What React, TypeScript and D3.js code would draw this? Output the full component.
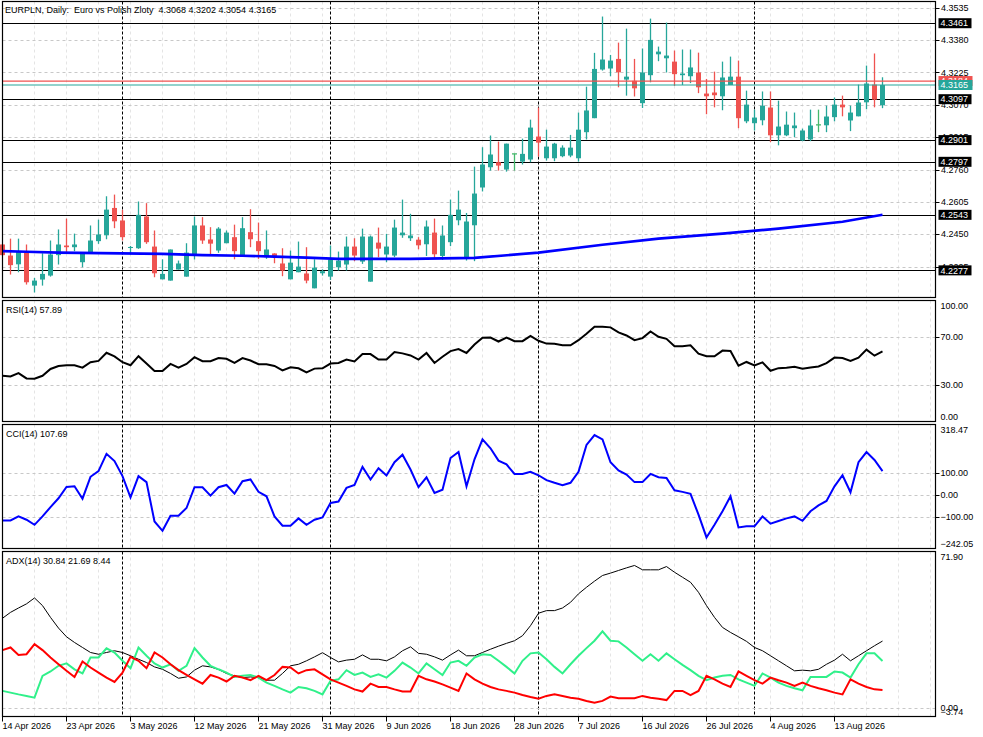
import * as d3 from 'd3'

// EURPLN daily, bars Sun-Fri starting 14 Apr 2026
const symbol = 'EURPLN'
const title = 'Euro vs Polish Zloty'
const firstDay = '2026-04-14'

const opens = [
  4.2401, 4.2348, 4.2306, 4.2362, 4.2204, 4.2233, 4.2252, 4.2350, 4.2396, 4.2388,
  4.2316, 4.2362, 4.2417, 4.2445, 4.2576, 4.2516, 4.2385, 4.2383, 4.2535, 4.2391,
  4.2234, 4.2228, 4.2281, 4.2247, 4.2348, 4.2492, 4.2425, 4.2372, 4.2407, 4.2436,
  4.2348, 4.2460, 4.2417, 4.2340, 4.2358, 4.2310, 4.2234, 4.2268, 4.2262, 4.2191,
  4.2263, 4.2247, 4.2292, 4.2305, 4.2391, 4.2319, 4.2223, 4.2410, 4.2353, 4.2348,
  4.2445, 4.2431, 4.2424, 4.2402, 4.2458, 4.2346, 4.2412, 4.2517, 4.2337, 4.2493,
  4.2674, 4.2771, 4.2795, 4.2760, 4.2835, 4.2798, 4.2808, 4.2918, 4.2814, 4.2814,
  4.2824, 4.2827, 4.2814, 4.2939, 4.3006, 4.3239, 4.3244, 4.3290, 4.3191, 4.3185,
  4.3078, 4.3212, 4.3312, 4.3293, 4.3277, 4.3212, 4.3207, 4.3225, 4.3124, 4.3129,
  4.3111, 4.3165, 4.3205, 4.2991, 4.2982, 4.2996, 4.3057, 4.2924, 4.2924, 4.2958,
  4.2899, 4.2904, 4.2974, 4.2972, 4.3011, 4.3071, 4.2995, 4.3015, 4.3082, 4.3167,
  4.3068,
]
const highs = [
  4.2404, 4.2429, 4.2429, 4.2401, 4.2241, 4.2359, 4.2420, 4.2473, 4.2525, 4.2453,
  4.2364, 4.2492, 4.2520, 4.2632, 4.2640, 4.2567, 4.2394, 4.2607, 4.2599, 4.2468,
  4.2330, 4.2377, 4.2324, 4.2407, 4.2535, 4.2532, 4.2484, 4.2484, 4.2468, 4.2496,
  4.2532, 4.2570, 4.2506, 4.2468, 4.2359, 4.2383, 4.2372, 4.2415, 4.2388, 4.2330,
  4.2282, 4.2396, 4.2367, 4.2439, 4.2431, 4.2477, 4.2444, 4.2482, 4.2452, 4.2520,
  4.2616, 4.2548, 4.2436, 4.2516, 4.2525, 4.2492, 4.2616, 4.2659, 4.2552, 4.2774,
  4.2867, 4.2923, 4.2894, 4.2884, 4.2835, 4.2908, 4.2999, 4.3057, 4.2951, 4.2888,
  4.2876, 4.2926, 4.3033, 4.3157, 4.3319, 4.3493, 4.3309, 4.3368, 4.3435, 4.3290,
  4.3340, 4.3483, 4.3349, 4.3464, 4.3330, 4.3335, 4.3335, 4.3320, 4.3194, 4.3229,
  4.3277, 4.3301, 4.3282, 4.3138, 4.3047, 4.3134, 4.3134, 4.3090, 4.3038, 4.3033,
  4.2956, 4.3047, 4.3047, 4.3066, 4.3105, 4.3114, 4.3066, 4.3167, 4.3258, 4.3316,
  4.3202,
]
const lows = [
  4.2347, 4.2257, 4.2268, 4.2209, 4.2171, 4.2204, 4.2247, 4.2305, 4.2364, 4.2369,
  4.2292, 4.2359, 4.2404, 4.2426, 4.2479, 4.2420, 4.2353, 4.2380, 4.2404, 4.2244,
  4.2234, 4.2228, 4.2281, 4.2247, 4.2329, 4.2404, 4.2353, 4.2361, 4.2407, 4.2330,
  4.2348, 4.2388, 4.2332, 4.2332, 4.2311, 4.2249, 4.2234, 4.2268, 4.2215, 4.2191,
  4.2252, 4.2231, 4.2276, 4.2276, 4.2321, 4.2308, 4.2223, 4.2340, 4.2316, 4.2340,
  4.2433, 4.2418, 4.2378, 4.2346, 4.2337, 4.2327, 4.2393, 4.2493, 4.2324, 4.2321,
  4.2655, 4.2755, 4.2755, 4.2750, 4.2755, 4.2784, 4.2795, 4.2822, 4.2803, 4.2800,
  4.2819, 4.2819, 4.2798, 4.2904, 4.3006, 4.3234, 4.3207, 4.3154, 4.3114, 4.3110,
  4.3055, 4.3178, 4.3279, 4.3225, 4.3161, 4.3165, 4.3174, 4.3126, 4.3025, 4.3058,
  4.3044, 4.3165, 4.2958, 4.2982, 4.2947, 4.2972, 4.2891, 4.2876, 4.2920, 4.2915,
  4.2896, 4.2896, 4.2939, 4.2939, 4.2991, 4.3015, 4.2944, 4.3015, 4.3049, 4.3058,
  4.3054,
]
const closes = [
  4.2350, 4.2302, 4.2367, 4.2220, 4.2228, 4.2260, 4.2353, 4.2401, 4.2388, 4.2401,
  4.2356, 4.2420, 4.2449, 4.2568, 4.2512, 4.2436, 4.2389, 4.2543, 4.2412, 4.2263,
  4.2260, 4.2377, 4.2310, 4.2362, 4.2492, 4.2420, 4.2405, 4.2477, 4.2458, 4.2369,
  4.2479, 4.2426, 4.2369, 4.2377, 4.2346, 4.2276, 4.2314, 4.2295, 4.2228, 4.2290,
  4.2273, 4.2329, 4.2324, 4.2391, 4.2348, 4.2439, 4.2439, 4.2381, 4.2391, 4.2482,
  4.2458, 4.2444, 4.2397, 4.2487, 4.2354, 4.2444, 4.2543, 4.2568, 4.2511, 4.2645,
  4.2784, 4.2832, 4.2779, 4.2884, 4.2835, 4.2835, 4.2961, 4.2889, 4.2870, 4.2884,
  4.2865, 4.2865, 4.2951, 4.3043, 4.3242, 4.3287, 4.3282, 4.3226, 4.3205, 4.3149,
  4.3225, 4.3381, 4.3325, 4.3306, 4.3217, 4.3220, 4.3249, 4.3154, 4.3111, 4.3116,
  4.3201, 4.3205, 4.3006, 4.3071, 4.3009, 4.3066, 4.2924, 4.2966, 4.2975, 4.2971,
  4.2947, 4.2971, 4.2974, 4.3014, 4.3071, 4.3058, 4.3033, 4.3081, 4.3172, 4.3095,
  4.3165,
]

// moving average read at a few bars: [bar, value]
const maPoints: [number, number][] = [
  [0, 4.2369], [3, 4.2366], [7, 4.2362], [20, 4.2356], [25, 4.2350], [30, 4.2347],
  [34, 4.2343], [38, 4.2338], [42, 4.2332], [51, 4.2332], [59, 4.2337], [67, 4.2362],
  [75, 4.2400], [82, 4.2429], [90, 4.2453], [97, 4.2477], [105, 4.2510], [110, 4.2543],
]

const levels = [4.3461, 4.3097, 4.2901, 4.2797, 4.2543, 4.2277]
const askPrice = 4.3184
const priceTicks = [4.3535, 4.3380, 4.3225, 4.3070, 4.2915, 4.2760, 4.2605, 4.2450, 4.2295]

const rsi = [
  37.8, 37.2, 40.0, 35.6, 35.3, 37.8, 43.4, 45.9, 46.5, 46.5,
  44.5, 49.0, 50.1, 56.8, 53.8, 49.0, 46.5, 54.0, 47.9, 41.7,
  41.7, 47.6, 44.5, 47.6, 53.2, 49.8, 49.8, 52.4, 51.8, 48.4,
  52.4, 50.4, 47.3, 47.3, 45.9, 42.3, 44.8, 44.0, 40.6, 43.7,
  44.0, 47.9, 48.4, 51.2, 49.6, 55.7, 55.7, 51.2, 51.2, 57.4,
  56.3, 54.6, 51.2, 56.6, 48.4, 53.5, 58.2, 59.9, 56.6, 63.6,
  69.2, 69.4, 66.1, 69.4, 66.4, 66.4, 70.8, 66.7, 64.4, 64.2,
  63.0, 63.0, 67.2, 72.5, 78.3, 78.3, 77.8, 73.6, 71.1, 67.2,
  68.9, 74.4, 70.0, 68.3, 62.2, 62.2, 63.0, 56.1, 53.9, 53.9,
  58.6, 58.3, 46.1, 49.2, 46.4, 48.9, 41.9, 44.1, 44.4, 45.3,
  43.6, 44.7, 45.5, 48.3, 52.8, 52.5, 50.0, 52.8, 59.4, 54.4,
  57.89,
]
const rsiLevels = [70, 30]

const cci = [
  -115, -115, -97, -112, -135, -97, -55, -15, 36, 39,
  -17, 82, 108, 186, 153, 85, -11, 85, 58, -120,
  -162, -94, -94, -59, 35, 35, -3, 35, 45, 6,
  62, 70, 14, -6, -97, -139, -139, -106, -135, -112,
  -102, -36, -30, 32, 45, 127, 70, 121, 88, 148,
  182, 115, 35, 80, 9, 24, 167, 194, 39, 161,
  251, 211, 155, 138, 95, 95, 105, 89, 67, 55,
  44, 55, 105, 226, 271, 251, 148, 111, 92, 58,
  58, 95, 80, 77, 21, 14, 5, -89, -192, -135,
  -74, -6, -147, -142, -142, -97, -130, -118, -106, -97,
  -117, -74, -47, -27, 39, 89, 12, 148, 194, 158,
  107.69,
]
const cciLevels = [100, 0, -100]

const adx = [
  41.3, 44.0, 46.0, 47.9, 50.6, 47.1, 41.7, 36.8, 32.8, 30.2,
  27.9, 25.6, 24.8, 25.6, 26.4, 25.6, 24.1, 22.5, 21.0, 19.0,
  17.9, 16.0, 13.8, 14.4, 17.5, 19.5, 19.0, 17.8, 16.0, 14.9,
  14.1, 14.4, 14.1, 12.9, 12.9, 16.0, 19.5, 20.2, 21.8, 23.6,
  25.5, 23.3, 21.3, 22.1, 22.5, 24.5, 22.5, 22.5, 21.8, 23.6,
  26.4, 28.2, 25.2, 24.8, 23.6, 22.1, 24.5, 26.7, 24.1, 24.1,
  25.6, 27.1, 28.5, 29.8, 31.0, 33.3, 37.9, 43.6, 44.8, 44.8,
  46.0, 48.6, 52.5, 55.5, 58.3, 60.9, 62.0, 63.2, 64.4, 65.5,
  63.5, 63.5, 63.5, 65.0, 62.4, 60.1, 57.8, 53.2, 47.1, 41.7,
  37.1, 34.8, 32.8, 30.7, 27.9, 26.4, 24.1, 21.8, 19.5, 17.2,
  17.5, 17.2, 17.9, 20.2, 22.1, 24.8, 21.8, 24.1, 26.4, 28.7,
  30.84,
]
const plusDi = [
  8.0, 7.2, 6.4, 5.7, 4.9, 14.9, 16.9, 19.5, 20.6, 17.9,
  16.0, 23.3, 23.3, 27.5, 25.6, 21.8, 18.4, 27.9, 24.1, 20.6,
  18.7, 20.2, 17.2, 19.5, 27.6, 23.3, 19.5, 17.9, 16.4, 14.4,
  14.9, 15.3, 14.1, 11.8, 10.3, 8.7, 7.2, 9.8, 9.2, 8.0,
  6.4, 12.6, 13.3, 17.5, 15.3, 16.4, 14.4, 15.6, 14.1, 17.2,
  21.0, 18.7, 16.0, 20.6, 17.9, 15.3, 21.0, 21.8, 19.5, 23.3,
  24.8, 24.5, 21.8, 19.0, 16.0, 21.8, 25.2, 25.6, 22.5, 19.0,
  16.0, 20.2, 24.1, 27.6, 31.0, 35.3, 31.0, 30.7, 27.9, 24.8,
  21.8, 24.8, 21.8, 25.2, 22.5, 19.9, 17.5, 14.9, 12.9, 14.1,
  14.9, 15.3, 13.3, 11.8, 10.3, 16.0, 14.1, 11.8, 10.3, 9.2,
  8.3, 14.4, 14.4, 14.4, 16.9, 16.4, 14.1, 20.2, 25.2, 25.2,
  21.69,
]
const minusDi = [
  26.7, 27.9, 24.5, 24.8, 29.4, 26.7, 23.3, 20.2, 17.2, 14.4,
  21.5, 18.7, 16.4, 14.1, 12.1, 16.4, 23.6, 21.8, 18.4, 25.6,
  23.3, 20.2, 17.5, 15.3, 13.3, 11.3, 15.3, 14.1, 12.3, 14.9,
  14.1, 12.9, 14.9, 12.9, 15.3, 19.0, 18.7, 16.0, 17.5, 17.9,
  15.6, 13.3, 11.8, 10.3, 8.7, 7.7, 11.3, 9.8, 9.8, 8.7,
  7.7, 7.7, 14.9, 13.3, 12.3, 11.0, 9.5, 8.0, 16.0, 13.3,
  11.3, 9.8, 8.7, 8.0, 7.2, 6.1, 5.2, 4.4, 5.7, 6.4,
  5.7, 4.9, 4.4, 3.4, 2.6, 3.4, 5.4, 4.6, 4.6, 4.6,
  5.7, 4.9, 4.4, 3.8, 8.0, 8.0, 6.1, 8.0, 14.9, 13.3,
  11.3, 9.8, 16.9, 14.9, 12.9, 11.3, 14.1, 12.9, 11.8, 10.3,
  11.8, 10.3, 9.2, 8.3, 7.2, 6.4, 13.3, 11.3, 9.8, 8.7,
  8.44,
]

const tickLabels = [
  '14 Apr 2026', '23 Apr 2026', '3 May 2026', '12 May 2026', '21 May 2026',
  '31 May 2026', '9 Jun 2026', '18 Jun 2026', '28 Jun 2026', '7 Jul 2026',
  '16 Jul 2026', '26 Jul 2026', '4 Aug 2026', '13 Aug 2026',
]
const barsPerTick = 8

// ---- layout
const W = 983, H = 737
const L = 2.5, R = 935.5
const panes = {
  main: { top: 1.5, bottom: 297.5 },
  rsi: { top: 300.5, bottom: 421.5 },
  cci: { top: 424.5, bottom: 548.5 },
  adx: { top: 551.5, bottom: 716.5 },
}
const font = "'Liberation Sans', Arial, sans-serif"
const bull = '#26a69a', bear = '#ef5350', doji = '#44b86c'

// bar calendar (no Saturdays)
const barDates: Date[] = []
{
  const d = new Date(firstDay + 'T00:00:00Z')
  while (barDates.length < closes.length) {
    if (d.getUTCDay() !== 6) barDates.push(new Date(d))
    d.setUTCDate(d.getUTCDate() + 1)
  }
}
const monthStarts = barDates
  .map((d, i) => (i > 0 && d.getUTCMonth() !== barDates[i - 1].getUTCMonth() ? i : -1))
  .filter(i => i >= 0)

const x = d3.scaleLinear().domain([0, 1]).range([2.5, 10.5])
const yMain = d3.scaleLinear().domain([4.2147, 4.3565]).range([panes.main.bottom, panes.main.top])
const yRsi = d3.scaleLinear().domain([0, 100]).range([panes.rsi.bottom, panes.rsi.top])
const yCci = d3.scaleLinear().domain([-242.05, 318.47]).range([panes.cci.bottom, panes.cci.top])
const yAdx = d3.scaleLinear().domain([-3.74, 71.9]).range([panes.adx.bottom, panes.adx.top])

const fmt4 = d3.format('.4f')
const fmt2 = d3.format('.2f')

function series(values: number[], y: d3.ScaleLinear<number, number>) {
  return d3.line<number>().x((_, i) => x(i)).y(d => y(d))(values) || ''
}

function AxisLabel({ v, y, top, bottom, tick = true }: { v: number; y: number; top: number; bottom: number; tick?: boolean }) {
  const yy = Math.max(top + 5, Math.min(bottom - 5, y))
  return (
    <g>
      {tick && <line x1={R} x2={R + 4} y1={Math.round(y) + 0.5} y2={Math.round(y) + 0.5} stroke="#000" />}
      <text x={R + 5} y={yy} dy="0.35em" fontSize={9} fontFamily={font} fill="#000">{fmt2(v)}</text>
    </g>
  )
}

export default function App() {
  const n = closes.length
  const last = n - 1
  const gridX = d3.range(0, 200, 4).map(i => x(i)).filter(v => v < R)
  const maLine = d3.line<[number, number]>().x(d => x(d[0])).y(d => yMain(d[1]))(maPoints) || ''
  const header = `${symbol}, Daily:  ${title}  ${fmt4(opens[last])} ${fmt4(highs[last])} ${fmt4(lows[last])} ${fmt4(closes[last])}`
  const bid = closes[last]

  const paneGrid = (p: { top: number; bottom: number }) => (
    <g>
      {gridX.map((gx, k) => (
        <line key={'v' + k} x1={gx} x2={gx} y1={p.top} y2={p.bottom} stroke="#e4e4e4" strokeDasharray="3,3" />
      ))}
      {monthStarts.map(i => (
        <line key={'m' + i} x1={x(i)} x2={x(i)} y1={p.top} y2={p.bottom} stroke="#000" strokeDasharray="3,2" />
      ))}
    </g>
  )
  const hGrid = (ys: number[], key: string) =>
    ys.map((gy, k) => (
      <line key={key + k} x1={L} x2={R} y1={Math.round(gy) + 0.5} y2={Math.round(gy) + 0.5} stroke="#c8c8c8" strokeDasharray="3,3" />
    ))

  return (
    <svg width={W} height={H} style={{ position: 'absolute', left: 0, top: 0, background: '#fff' }}>
      <rect width={W} height={H} fill="#fff" />

      {/* main pane */}
      {paneGrid(panes.main)}
      {hGrid(priceTicks.map(p => yMain(p)), 'pg')}
      {levels.map(p => (
        <line key={'lv' + p} x1={L} x2={R} y1={Math.round(yMain(p)) + 0.5} y2={Math.round(yMain(p)) + 0.5} stroke="#000" strokeWidth={1.2} />
      ))}
      {closes.map((c, i) => {
        const o = opens[i]
        const cx = x(i)
        const col = c > o ? bull : c < o ? bear : doji
        const top = yMain(Math.max(o, c)), bot = yMain(Math.min(o, c))
        return (
          <g key={'c' + i}>
            <line x1={cx} x2={cx} y1={yMain(highs[i])} y2={yMain(lows[i])} stroke={col} strokeWidth={1.3} />
            {c === o ? (
              <line x1={cx - 2.5} x2={cx + 2.5} y1={top} y2={top} stroke={col} strokeWidth={1.3} />
            ) : (
              <rect x={cx - 2.5} y={top} width={5} height={Math.max(1, bot - top)} fill={col} />
            )}
          </g>
        )
      })}
      <path d={maLine} fill="none" stroke="#0000ff" strokeWidth={2.6} />
      <line x1={L} x2={R} y1={yMain(askPrice)} y2={yMain(askPrice)} stroke={bear} strokeWidth={1.2} />
      <line x1={L} x2={R} y1={yMain(bid)} y2={yMain(bid)} stroke={bull} strokeWidth={1.2} />
      <text x={5} y={13} fontSize={9} fontFamily={font} style={{ whiteSpace: 'pre' }}>{header}</text>

      {/* price axis */}
      {priceTicks.map(p => (
        <g key={'pt' + p}>
          <line x1={R} x2={R + 4} y1={Math.round(yMain(p)) + 0.5} y2={Math.round(yMain(p)) + 0.5} stroke="#000" />
          <text x={R + 5.5} y={yMain(p)} dy="0.35em" fontSize={9} fontFamily={font}>{fmt4(p)}</text>
        </g>
      ))}
      {levels.map(p => (
        <g key={'lb' + p}>
          <rect x={R + 3} y={yMain(p) - 5} width={33} height={10} fill="#000" />
          <text x={R + 5} y={yMain(p)} dy="0.35em" fontSize={9} fontFamily={font} fill="#fff">{fmt4(p)}</text>
        </g>
      ))}
      <rect x={R + 3} y={yMain(askPrice) - 5} width={34} height={10} fill={bear} />
      <text x={R + 5} y={yMain(askPrice)} dy="0.35em" fontSize={9} fontFamily={font} fill="#fff">{fmt4(askPrice)}</text>
      <rect x={R + 3} y={yMain(bid) - 5} width={34} height={10} fill={bull} />
      <text x={R + 5} y={yMain(bid)} dy="0.35em" fontSize={9} fontFamily={font} fill="#fff">{fmt4(bid)}</text>

      {/* RSI */}
      {paneGrid(panes.rsi)}
      {hGrid(rsiLevels.map(v => yRsi(v)), 'rg')}
      <path d={series(rsi, yRsi)} fill="none" stroke="#000" strokeWidth={2} />
      <text x={6} y={panes.rsi.top + 12} fontSize={9} fontFamily={font}>{`RSI(14) ${fmt2(rsi[last])}`}</text>
      {[100, 70, 30, 0].map(v => (
        <AxisLabel key={'ra' + v} v={v} y={yRsi(v)} top={panes.rsi.top} bottom={panes.rsi.bottom} tick={v !== 100 && v !== 0} />
      ))}

      {/* CCI */}
      {paneGrid(panes.cci)}
      {hGrid(cciLevels.map(v => yCci(v)), 'cg')}
      <path d={series(cci, yCci)} fill="none" stroke="#0000ff" strokeWidth={2} />
      <text x={6} y={panes.cci.top + 12} fontSize={9} fontFamily={font}>{`CCI(14) ${fmt2(cci[last])}`}</text>
      {[318.47, 100, 0, -100, -242.05].map(v => (
        <AxisLabel key={'ca' + v} v={v} y={yCci(v)} top={panes.cci.top} bottom={panes.cci.bottom} tick={Math.abs(v) <= 100} />
      ))}

      {/* ADX */}
      {paneGrid(panes.adx)}
      {hGrid([yAdx(0)], 'ag')}
      <path d={series(adx, yAdx)} fill="none" stroke="#000" strokeWidth={1} />
      <path d={series(plusDi, yAdx)} fill="none" stroke="#30f08a" strokeWidth={2} />
      <path d={series(minusDi, yAdx)} fill="none" stroke="#ff0000" strokeWidth={2} />
      <text x={6} y={panes.adx.top + 12} fontSize={9} fontFamily={font}>
        {`ADX(14) ${fmt2(adx[last])} ${fmt2(plusDi[last])} ${fmt2(minusDi[last])}`}
      </text>
      {[71.9, 0, -3.74].map(v => (
        <AxisLabel key={'aa' + v} v={v} y={yAdx(v)} top={panes.adx.top} bottom={panes.adx.bottom} tick={false} />
      ))}

      {/* pane frames */}
      {Object.values(panes).map((p, k) => (
        <rect key={'f' + k} x={L} y={p.top} width={R - L} height={p.bottom - p.top} fill="none" stroke="#000" strokeWidth={1.2} />
      ))}

      {/* time axis */}
      {tickLabels.map((t, k) => {
        const tx = x(k * barsPerTick)
        return (
          <g key={'t' + k}>
            <line x1={tx} x2={tx} y1={panes.adx.bottom} y2={panes.adx.bottom + 5} stroke="#000" />
            <text x={tx} y={729} fontSize={9} fontFamily={font}>{t}</text>
          </g>
        )
      })}
    </svg>
  )
}
